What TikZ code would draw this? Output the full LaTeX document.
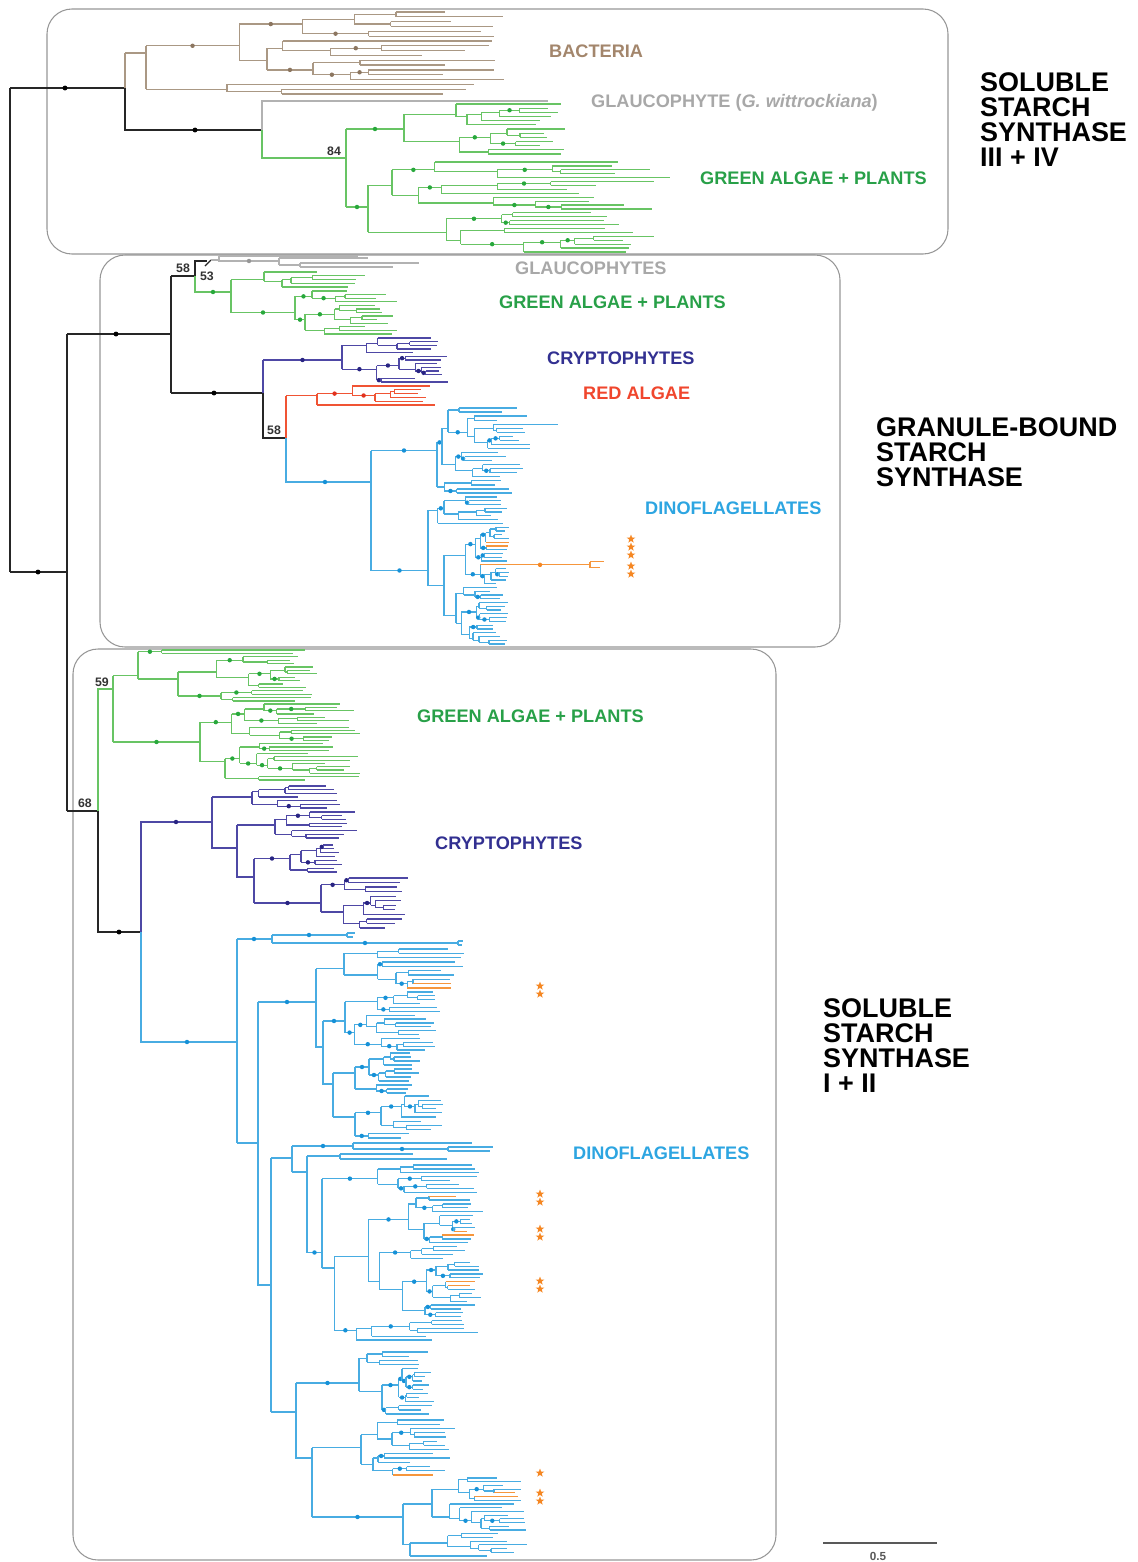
\documentclass[tikz,border=0pt]{standalone}
\usepackage{fontspec}
\setmainfont{Liberation Sans}
\usetikzlibrary{shapes.geometric}

\definecolor{bacL}{RGB}{170,152,132}
\definecolor{bacD}{RGB}{140,118,96}
\definecolor{bacT}{RGB}{163,134,108}
\definecolor{glaL}{RGB}{178,178,178}
\definecolor{glaD}{RGB}{150,150,150}
\definecolor{glaT}{RGB}{168,168,168}
\definecolor{grnL}{RGB}{104,196,100}
\definecolor{grnD}{RGB}{40,168,60}
\definecolor{grnT}{RGB}{40,160,72}
\definecolor{cryL}{RGB}{78,72,165}
\definecolor{cryD}{RGB}{40,36,130}
\definecolor{cryT}{RGB}{50,48,145}
\definecolor{redL}{RGB}{240,84,52}
\definecolor{redD}{RGB}{225,50,30}
\definecolor{redT}{RGB}{240,70,45}
\definecolor{dinL}{RGB}{72,172,226}
\definecolor{dinD}{RGB}{22,145,215}
\definecolor{dinT}{RGB}{45,165,225}
\definecolor{orgL}{RGB}{246,150,60}
\definecolor{orgD}{RGB}{245,135,35}
\definecolor{boxC}{RGB}{150,150,150}

% leaves drawn in orange, and leaves that run further out
\newcommand\orgleaves{542.2,546.0,564.85,983.7,988,1196.1,1231.1,1235.0,1281.7,1285.6,1475,1492.9,1496.6}
\newcommand\longleaves{564.85/590,424.2/558,177.65/670}

% clade: parent x, node x, first leaf y, last leaf y, leaves, max x, colour
\newcommand\clade[7]{%
  \begingroup
  \pgfmathsetmacro\clY{(#3+#4)/2}%
  \gdef\clHa{0}\gdef\clHb{0}\gdef\clLx{0}%
  \foreach \o in \orgleaves {%
    \pgfmathtruncatemacro\clT{abs(#3-\o)<1.2}\ifnum\clT=1 \gdef\clHa{1}\fi
    \pgfmathtruncatemacro\clT{abs(#4-\o)<1.2}\ifnum\clT=1 \gdef\clHb{1}\fi}%
  \ifnum\clHa\clHb=11 \def\clS{org}\else\def\clS{#7}\fi
  \def\clE{#2}%
  \ifnum#5=1\relax
    \foreach \ly/\lx in \longleaves {%
      \pgfmathtruncatemacro\clT{abs(#3-\ly)<1.2}\ifnum\clT=1 \xdef\clLx{\lx}\fi}%
    \ifdim\clLx pt>0pt \let\clE\clLx\fi
  \fi
  \edef\clDo{\noexpand\draw[\clS L, tree]}%
  \edef\clDot{\noexpand\fill[\clS D]}%
  \clDo (#1,\clY) -- (\clE,\clY);%
  \ifnum#5>1\relax
    \pgfmathsetmacro\clR{rnd}%
    \ifdim\clR pt<0.42pt\relax
      \clDot ({(#1+#2)/2},\clY) circle (1.9pt);%
    \fi
    \pgfmathtruncatemacro\clNa{max(1,min(#5-1,round(#5*(0.15+0.7*rnd))))}%
    \pgfmathtruncatemacro\clNb{#5-\clNa}%
    \pgfmathsetmacro\clD{(#4-#3)/(#5-1)}%
    \pgfmathsetmacro\clYb{#3+(\clNa-1)*\clD}%
    \pgfmathsetmacro\clYc{#3+\clNa*\clD}%
    \pgfmathsetmacro\clXa{\clNa==1 ? #6-(#6-#2)*0.6*rnd : #2+(#6-#2)*(0.05+0.3*rnd)}%
    \pgfmathsetmacro\clXb{\clNb==1 ? #6-(#6-#2)*0.6*rnd : #2+(#6-#2)*(0.05+0.3*rnd)}%
    \clDo (#2,{(#3+\clYb)/2}) -- (#2,{(\clYc+#4)/2});%
    \edef\clNext{\noexpand\clade{#2}{\clXa}{#3}{\clYb}{\clNa}{#6}{#7}%
      \noexpand\clade{#2}{\clXb}{\clYc}{#4}{\clNb}{#6}{#7}}%
    \clNext
  \fi
  \endgroup}

\begin{document}
\begin{tikzpicture}[x=0.03cm, y=-0.03cm,
    tree/.style={line width=1.05pt},
    bb/.style={line width=1.6pt, draw=black!85},
    box/.style={draw=boxC, line width=0.9pt, rounded corners=0.75cm},
    grp/.style={font=\fontsize{15.5}{18}\selectfont\bfseries, anchor=west, inner sep=0pt},
    fam/.style={font=\fontsize{23}{21.3}\selectfont\bfseries, anchor=west, align=left, inner sep=0pt},
    bsv/.style={font=\fontsize{10.5}{12}\selectfont\bfseries, text=black!80, inner sep=0pt},
    strm/.style={star, star points=5, star point ratio=2.4, fill=orgD, inner sep=0pt, minimum size=0.27cm}
]
\useasboundingbox (0,0) rectangle (1137,1562);

% Boxes
\draw[box] (47,9) rectangle (948,254);
\draw[box] (100,255) rectangle (840,647);
\draw[box] (73,649) rectangle (776,1560);

% Backbone
\draw[bb] (10,88) -- (10,572);
\draw[bb] (10,88) -- (125,88);
\draw[bb] (125,88) -- (125,130) -- (262,130);
\draw[bb] (10,572) -- (67,572);
\draw[bb] (67,334) -- (67,811);
\draw[bb] (67,334) -- (171,334);
\draw[bb] (171,276) -- (171,393);
\draw[bb] (171,276) -- (195,276) -- (195,261) -- (207,261);
\draw[bb, line width=1pt] (205,266) -- (211,260);
\draw[bb] (171,393) -- (263,393) -- (263,438) -- (286,438);
\draw[bb] (67,811) -- (98,811);
\draw[bb] (98,811) -- (98,932) -- (141,932);
\foreach \p in {(65,88),(195,130),(38,572),(116,334),(214,393),(119,932)}
  \fill \p circle (2.1pt);

% SSS III + IV
\pgfmathsetseed{11}
\clade{125}{146}{12}{94}{18}{508}{bac}
\draw[bacL, tree] (125,53) -- (125,88);
\draw[glaL, tree] (262,130) -- (262,101) -- (548,101);
\draw[grnL, tree] (262,130) -- (262,158) -- (346,158);
\pgfmathsetseed{12}
\clade{346}{404}{104}{154}{13}{566}{grn}
\pgfmathsetseed{13}
\clade{346}{368}{162}{252}{24}{655}{grn}
\draw[grnL, tree] (346,129) -- (346,207);

% GBSS
\draw[glaL, tree] (219,256) -- (358,256);
\draw[glaL, tree] (219,256) -- (219,261) -- (279,261);
\draw[glaL, tree] (279,258) -- (279,265);
\draw[glaL, tree] (279,258) -- (368,258);
\draw[glaL, tree] (279,265) -- (300,265);
\draw[glaL, tree] (300,263) -- (300,267);
\draw[glaL, tree] (300,263) -- (419,263);
\draw[glaL, tree] (300,267) -- (393,267);
\draw[glaL, tree] (211,260) -- (219,260);
\fill[glaD] (249,261) circle (1.9pt);
\draw[grnL, tree] (195,276) -- (195,292) -- (231,292);
\fill[grnD] (213,292) circle (1.9pt);
\pgfmathsetseed{21}
\clade{231}{264}{272}{287}{5}{372}{grn}
\pgfmathsetseed{22}
\clade{231}{295}{291}{334}{13}{398}{grn}
\draw[grnL, tree] (231,279.5) -- (231,312.5);
\draw[cryL, tree] (263,393) -- (263,360);
\pgfmathsetseed{23}
\clade{263}{342}{338}{382}{13}{448}{cry}
\draw[redL, tree] (286,438) -- (286,395.5);
\pgfmathsetseed{24}
\clade{286}{317}{386}{405}{6}{438}{red}
\draw[dinL, tree] (286,438) -- (286,482) -- (371,482);
\fill[dinD] (325,482) circle (1.9pt);
\pgfmathsetseed{25}
\clade{371}{437}{408}{493}{22}{530}{din}
\pgfmathsetseed{26}
\clade{371}{428}{497}{644}{40}{510}{din}
\draw[dinL, tree] (371,450.5) -- (371,570.5);
\draw[orgL, tree] (590,561.85) -- (590,567.85);
\draw[orgL, tree] (590,561.85) -- (604,561.85);
\draw[orgL, tree] (590,567.85) -- (600,567.85);
\fill[orgD] (540,564.85) circle (1.9pt);

% SSS I + II, green
\draw[grnL, tree] (98,811) -- (98,689) -- (113,689);
\pgfmathsetseed{31}
\clade{113}{138}{650}{701}{16}{318}{grn}
\pgfmathsetseed{32}
\clade{113}{200}{704}{780}{24}{362}{grn}
\draw[grnL, tree] (113,675.5) -- (113,742);

% SSS I + II, cryptophytes
\draw[cryL, tree] (141,932) -- (141,822) -- (212,822);
\fill[cryD] (176,822) circle (1.9pt);
\pgfmathsetseed{33}
\clade{212}{252}{786}{808}{7}{345}{cry}
\draw[cryL, tree] (212,797) -- (212,848) -- (237,848);
\pgfmathsetseed{34}
\clade{237}{275}{812}{838}{8}{358}{cry}
\draw[cryL, tree] (237,825) -- (237,877) -- (254,877);
\pgfmathsetseed{35}
\clade{254}{290}{845}{872}{8}{345}{cry}
\pgfmathsetseed{36}
\clade{254}{321}{878}{928}{12}{410}{cry}
\draw[cryL, tree] (254,858.5) -- (254,903);

% SSS I + II, dinoflagellates
\draw[dinL, tree] (141,932) -- (141,1042) -- (237,1042);
\fill[dinD] (187,1042) circle (1.9pt);
\draw[dinL, tree] (237,939) -- (237,1143);
\draw[dinL, tree] (237,939) -- (272,939);
\fill[dinD] (254,939) circle (1.9pt);
\draw[dinL, tree] (272,935) -- (272,943);
\draw[dinL, tree] (272,935) -- (347,935);
\draw[dinL, tree] (347,933) -- (347,937);
\draw[dinL, tree] (347,933) -- (355,933);
\draw[dinL, tree] (347,937) -- (353,937);
\fill[dinD] (309,935) circle (1.9pt);
\draw[dinL, tree] (272,943) -- (458,943);
\draw[dinL, tree] (458,941) -- (458,945);
\draw[dinL, tree] (458,941) -- (463,941);
\draw[dinL, tree] (458,945) -- (462,945);
\fill[dinD] (365,943) circle (1.9pt);
\draw[dinL, tree] (237,1143) -- (258,1143);
\draw[dinL, tree] (258,1002) -- (258,1285) -- (271,1285);
\draw[dinL, tree] (258,1002) -- (316,1002);
\fill[dinD] (287,1002) circle (1.9pt);
\pgfmathsetseed{41}
\clade{316}{344}{949}{988}{10}{465}{din}
\draw[dinL, tree] (316,968.5) -- (316,1047) -- (323,1047);
\pgfmathsetseed{42}
\clade{323}{345}{992}{1050}{16}{440}{din}
\draw[dinL, tree] (323,1021) -- (323,1084) -- (333,1084);
\pgfmathsetseed{43}
\clade{333}{355}{1053}{1093}{11}{420}{din}
\pgfmathsetseed{44}
\clade{333}{355}{1096}{1138}{11}{448}{din}
\draw[dinL, tree] (333,1073) -- (333,1117);

\draw[dinL, tree] (271,1158) -- (271,1412);
\draw[dinL, tree] (271,1158) -- (292,1158);
\draw[dinL, tree] (292,1146) -- (292,1172);
\draw[dinL, tree] (292,1146) -- (353,1146);
\fill[dinD] (323,1146) circle (1.9pt);
\draw[dinL, tree] (353,1143) -- (353,1149);
\draw[dinL, tree] (353,1143) -- (472,1143);
\draw[dinL, tree] (353,1149) -- (448,1149);
\fill[dinD] (402,1149) circle (1.9pt);
\draw[dinL, tree] (448,1147) -- (448,1151);
\draw[dinL, tree] (448,1147) -- (493,1147);
\draw[dinL, tree] (448,1151) -- (490,1151);
\draw[dinL, tree] (292,1172) -- (307,1172);
\draw[dinL, tree] (307,1156) -- (307,1252.5);
\draw[dinL, tree] (307,1156) -- (340,1156);
\draw[dinL, tree] (340,1154) -- (340,1159);
\draw[dinL, tree] (340,1154) -- (413,1154);
\draw[dinL, tree] (340,1159) -- (447,1159);
\pgfmathsetseed{45}
\clade{307}{322}{1165}{1340}{46}{485}{din}

\draw[dinL, tree] (271,1412) -- (296,1412);
\pgfmathsetseed{46}
\clade{296}{359}{1352}{1414}{16}{434}{din}
\draw[dinL, tree] (296,1383) -- (296,1458) -- (312,1458);
\pgfmathsetseed{47}
\clade{312}{361}{1420}{1475}{14}{457}{din}
\pgfmathsetseed{48}
\clade{312}{403}{1478}{1556}{22}{528}{din}
\draw[dinL, tree] (312,1447.5) -- (312,1517);

% stars
\foreach \y [count=\i] in {539,547,555,566,574}
  \node[strm] (sg\i) at (631,\y) {};
\foreach \y [count=\i] in {986,994,1194,1202,1229,1237,1281,1289,1473,1493,1501}
  \node[strm] (ss\i) at (540,\y) {};

% Support values
\node[bsv] (b84) at (334,151) {84};
\node[bsv] (b58a) at (183,268) {58};
\node[bsv] (b53) at (207,276) {53};
\node[bsv] (b58b) at (274,430) {58};
\node[bsv] (b59) at (102,682) {59};
\node[bsv] (b68) at (85,803) {68};

% Group labels
\node[grp, text=bacT] (lbac) at (549,51) {BACTERIA};
\node[grp, text=glaT] (lgla1) at (591,103) {GLAUCOPHYTE (\textit{G. wittrockiana})};
\node[grp, text=grnT] (lgrn1) at (700,178) {GREEN ALGAE + PLANTS};
\node[grp, text=glaT] (lgla2) at (515,268) {GLAUCOPHYTES};
\node[grp, text=grnT] (lgrn2) at (499,302) {GREEN ALGAE + PLANTS};
\node[grp, text=cryT] (lcry1) at (547,358) {CRYPTOPHYTES};
\node[grp, text=redT] (lred) at (583,393) {RED ALGAE};
\node[grp, text=dinT] (ldin1) at (645,508) {DINOFLAGELLATES};
\node[grp, text=grnT] (lgrn3) at (417,716) {GREEN ALGAE + PLANTS};
\node[grp, text=cryT] (lcry2) at (435,843) {CRYPTOPHYTES};
\node[grp, text=dinT] (ldin2) at (573,1153) {DINOFLAGELLATES};

% Enzyme families
\node[fam] (sss34) at (980,120) {SOLUBLE\\STARCH\\SYNTHASE\\III + IV};
\node[fam] (gbss) at (876,452) {GRANULE-BOUND\\STARCH\\SYNTHASE};
\node[fam] (sss12) at (823,1046) {SOLUBLE\\STARCH\\SYNTHASE\\I + II};

% Scale bar
\coordinate (sb1) at (823,1543);
\coordinate (sb2) at (937,1543);
\draw[line width=1.2pt, black!65] (sb1) -- (sb2);
\node[font=\fontsize{10}{12}\selectfont\bfseries, text=black!65] (sbl) at (878,1556) {0.5};
\end{tikzpicture}
\end{document}
